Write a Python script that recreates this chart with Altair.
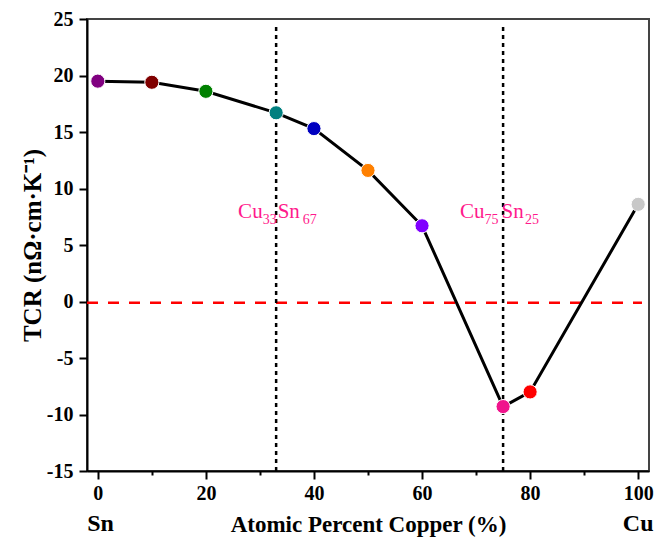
import altair as alt
import pandas as pd

# Composition (atomic % Cu) and measured TCR
copper_pct = [0, 10, 20, 33, 40, 50, 60, 75, 80, 100]
tcr = [19.5, 19.4, 18.6, 16.7, 15.3, 11.6, 6.7, -9.3, -8.0, 8.6]
dot_colors = ["#800080", "#800000", "#008000", "#008080", "#0000C0",
              "#FF8000", "#8000FF", "#F0148C", "#FF0000", "#C8C8C8"]

# Phase markers (vertical dotted lines) and their labels
phase_x = [33, 75]
phase_parts = [
    [("Cu", "right", -13.5, 0, 21), ("33", "left", -13.5, 6, 14),
     ("Sn", "left", 1.5, 0, 21), ("67", "left", 26.5, 6, 14)],
    [("Cu", "right", -18.5, 0, 21), ("75", "left", -18.5, 6, 14),
     ("Sn", "left", -1.5, 0, 21), ("25", "left", 22.0, 6, 14)],
]
label_y = 7.4

x_ticks = [0, 10, 20, 30, 40, 50, 60, 70, 80, 90, 100]
y_ticks = [-15, -12.5, -10, -7.5, -5, -2.5, 0, 2.5, 5, 7.5, 10, 12.5, 15, 17.5, 20, 22.5, 25]

FONT = "Liberation Serif"
PINK = "#FF1A8C"

df = pd.DataFrame({"pct": copper_pct, "tcr": tcr, "c": dot_colors})

xs = alt.Scale(domain=[-2, 102], nice=False, zero=False)
ys = alt.Scale(domain=[-15, 25], nice=False, zero=False)

x_axis = alt.Axis(
    values=x_ticks, grid=False, domainColor="black", domainWidth=2,
    tickColor="black", tickWidth=2,
    tickSize={"condition": {"test": "datum.value % 20 === 0", "value": 8}, "value": 4},
    labelExpr="datum.value % 20 === 0 ? '' + datum.value : ''",
    labelFont=FONT, labelFontSize=20, labelFontWeight="bold", labelColor="black",
    labelPadding=4,
    title="Atomic Percent Copper (%)", titleFont=FONT, titleFontSize=23,
    titleFontWeight="bold", titleColor="black", titleX=281, titleY=60,
    titleBaseline="alphabetic", titleAlign="center",
)
y_axis = alt.Axis(
    values=y_ticks, grid=False, domainColor="black", domainWidth=2,
    tickColor="black", tickWidth=2,
    tickSize={"condition": {"test": "datum.value % 5 === 0", "value": 8}, "value": 4},
    labelExpr="datum.value % 5 === 0 ? '' + datum.value : ''",
    labelFont=FONT, labelFontSize=20, labelFontWeight="bold", labelColor="black",
    labelPadding=6,
    title="TCR (nΩ·cm·K⁻¹)", titleFont=FONT, titleFontSize=25,
    titleFontWeight="bold", titleColor="black", titleX=-55, titleY=226,
    titleAngle=-90, titleAlign="center", titleBaseline="middle",
)

base = alt.Chart(df)

line = base.mark_line(color="black", strokeWidth=3).encode(
    x=alt.X("pct:Q", scale=xs, axis=x_axis),
    y=alt.Y("tcr:Q", scale=ys, axis=y_axis),
    order="pct:Q",
)

dots = base.mark_circle(size=200, opacity=1, stroke="white", strokeWidth=1).encode(
    x=alt.X("pct:Q", scale=xs),
    y=alt.Y("tcr:Q", scale=ys),
    color=alt.Color("c:N", scale=None),
)

zero_df = pd.DataFrame({"x0": [-2], "x1": [100.7], "y": [-0.1]})
zero_line = alt.Chart(zero_df).mark_rule(
    color="#FF0000", strokeWidth=2.5, strokeDash=[11, 10]
).encode(
    x=alt.X("x0:Q", scale=xs), x2="x1:Q", y=alt.Y("y:Q", scale=ys)
)

phase_df = pd.DataFrame({"x": phase_x, "y0": [-15] * 2, "y1": [24.6] * 2})
phase_lines = alt.Chart(phase_df).mark_rule(
    color="black", strokeWidth=2.5, strokeDash=[4, 4]
).encode(
    x=alt.X("x:Q", scale=xs), y=alt.Y("y0:Q", scale=ys), y2="y1:Q"
)

label_layers = []
for px, parts in zip(phase_x, phase_parts):
    for text, align, dx, dy, size in parts:
        tdf = pd.DataFrame({"x": [px], "y": [label_y], "t": [text]})
        label_layers.append(
            alt.Chart(tdf).mark_text(
                align=align, baseline="alphabetic", dx=dx, dy=dy,
                font=FONT, fontSize=size, color=PINK,
            ).encode(x=alt.X("x:Q", scale=xs), y=alt.Y("y:Q", scale=ys), text="t:N")
        )

end_df = pd.DataFrame({"x": [0.5, 100], "t": ["Sn", "Cu"]})
end_labels = alt.Chart(end_df).mark_text(
    align="center", baseline="alphabetic", font=FONT, fontSize=24,
    fontWeight="bold", color="black",
).encode(x=alt.X("x:Q", scale=xs), y=alt.value(512), text="t:N")

chart = alt.layer(
    zero_line, phase_lines, line, dots, *label_layers, end_labels
).properties(
    width=562, height=452,
    autosize=alt.AutoSizeParams(type="none"),
    padding={"left": 87, "top": 19, "right": 7, "bottom": 67},
).configure_view(
    stroke="#444444", strokeWidth=2
).configure_axis(
    labelFont=FONT, titleFont=FONT
).configure_text(font=FONT)

chart.save("out.html", embed_options={"renderer": "svg", "actions": False})
